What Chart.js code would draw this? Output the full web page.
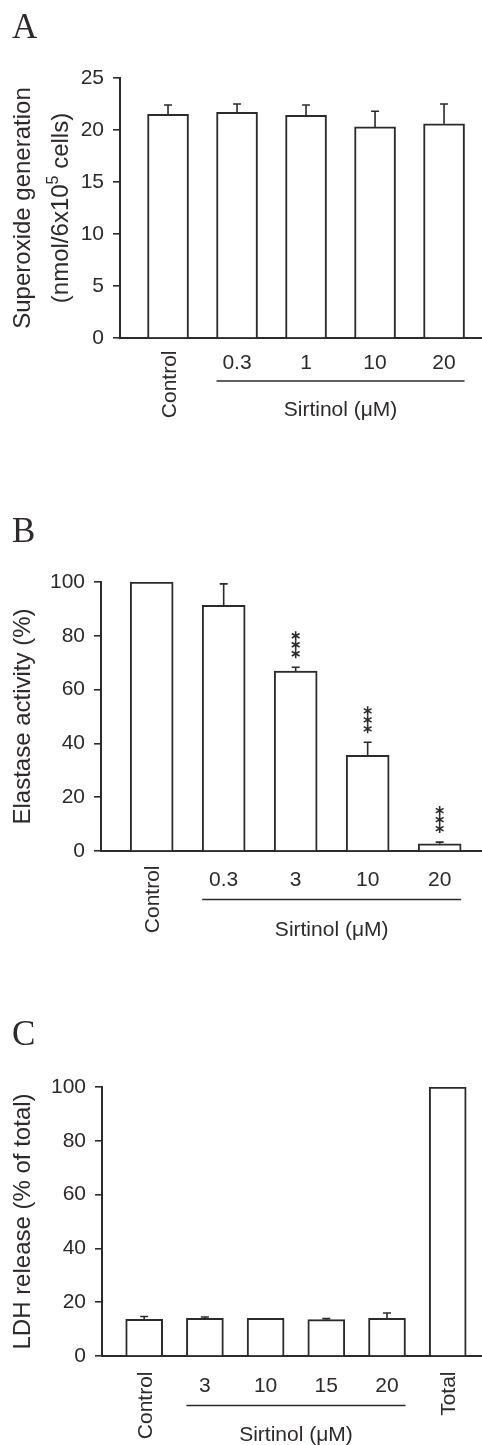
<!DOCTYPE html>
<html>
<head>
<meta charset="utf-8">
<script src="https://cdn.jsdelivr.net/npm/chart.js@4.4.1/dist/chart.umd.min.js"></script>
<style>
  html, body { margin: 0; padding: 0; background: #fff; }
  body { width: 482px; height: 1445px; position: relative; overflow: hidden; }
  .panel { position: absolute; left: 0; width: 482px; }
  canvas { display: block; }
</style>
</head>
<body>
<div class="panel" style="top:0"><canvas id="chartA" width="482" height="440"></canvas></div>
<div class="panel" style="top:480px"><canvas id="chartB" width="482" height="480"></canvas></div>
<div class="panel" style="top:960px"><canvas id="chartC" width="482" height="485"></canvas></div>
<script>
// A: superoxide generation
const catsA = ['Control', '0.3', '1', '10', '20'];
const meanA = [21.5, 21.7, 21.4, 20.3, 20.6];
const errA = [0.9, 0.8, 1.0, 1.5, 1.9];
const ticksA = [0, 5, 10, 15, 20, 25];

// B: elastase activity
const catsB = ['Control', '0.3', '3', '10', '20'];
const meanB = [100, 91.3, 66.9, 35.6, 2.7];
const errB = [0, 8.0, 1.4, 4.8, 0.6];
const starsB = ['', '', '***', '***', '***'];
const ticksB = [0, 20, 40, 60, 80, 100];

// C: LDH release
const catsC = ['Control', '3', '10', '15', '20', 'Total'];
const meanC = [13.6, 14.0, 14.0, 13.5, 14.0, 100];
const errC = [1.1, 0.5, 0, 0.4, 2.0, 0];
const ticksC = [0, 20, 40, 60, 80, 100];

const sirtinolGroup = [1, 2, 3, 4];
const groupTitle = 'Sirtinol (\u03bcM)';

const ink = '#2e2a2a';
const sans = '"Liberation Sans", Arial, sans-serif';

const figPlugin = {
    id: 'fig',
    afterDatasetsDraw(chart, args, o) {
        const ctx = chart.ctx;
        const y = chart.scales.y;
        const area = chart.chartArea;
        const bars = chart.getDatasetMeta(0).data;
        ctx.save();
        ctx.strokeStyle = ink;
        ctx.fillStyle = ink;

        // error bars (upper half only)
        ctx.lineWidth = 1.6;
        bars.forEach((bar, i) => {
            const e = o.err[i];
            if (!e) return;
            const top = y.getPixelForValue(o.mean[i] + e);
            ctx.beginPath();
            ctx.moveTo(bar.x, bar.y);
            ctx.lineTo(bar.x, top);
            ctx.moveTo(bar.x - 4, top);
            ctx.lineTo(bar.x + 4, top);
            ctx.stroke();
        });

        // significance stars, stacked vertically
        if (o.stars) {
            ctx.lineWidth = 1.6;
            bars.forEach((bar, i) => {
                const n = (o.stars[i] || '').length;
                const top = y.getPixelForValue(o.mean[i] + (o.err[i] || 0));
                for (let k = 0; k < n; k++) {
                    const cy = top - 13.5 - 9 * k;
                    ctx.beginPath();
                    for (let a = 0; a < 3; a++) {
                        const ang = Math.PI / 2 + a * Math.PI / 3;
                        ctx.moveTo(bar.x + 4.5 * Math.cos(ang), cy + 4.5 * Math.sin(ang));
                        ctx.lineTo(bar.x - 4.5 * Math.cos(ang), cy - 4.5 * Math.sin(ang));
                    }
                    ctx.stroke();
                }
            });
        }

        // category labels
        ctx.font = '21px ' + sans;
        bars.forEach((bar, i) => {
            const label = o.cats[i];
            if (o.group.includes(i)) {
                ctx.textAlign = 'center';
                ctx.textBaseline = 'alphabetic';
                ctx.fillText(label, bar.x, area.bottom + o.numY);
            } else {
                ctx.save();
                ctx.translate(bar.x + 7.5, area.bottom + o.rotY);
                ctx.rotate(-Math.PI / 2);
                ctx.textAlign = 'right';
                ctx.textBaseline = 'alphabetic';
                ctx.fillText(label, 0, 0);
                ctx.restore();
            }
        });

        // group underline + title
        const first = bars[o.group[0]];
        const last = bars[o.group[o.group.length - 1]];
        const x0 = first.x - first.width / 2;
        const x1 = last.x + last.width / 2;
        ctx.lineWidth = 1.5;
        ctx.beginPath();
        ctx.moveTo(x0, area.bottom + o.lineY);
        ctx.lineTo(x1, area.bottom + o.lineY);
        ctx.stroke();
        ctx.textAlign = 'center';
        ctx.fillText(o.groupTitle, (x0 + x1) / 2, area.bottom + o.groupY);

        // y axis title (rotated, may have two lines and a superscript)
        const cy = (area.top + area.bottom) / 2;
        o.yTitle.forEach((line, li) => {
            ctx.save();
            ctx.translate(o.titleX[li], cy);
            ctx.rotate(-Math.PI / 2);
            ctx.textAlign = 'left';
            let total = 0;
            line.forEach(seg => {
                ctx.font = (seg.sup ? '16px ' : '24px ') + sans;
                total += ctx.measureText(seg.t).width;
            });
            let x = -total / 2;
            line.forEach(seg => {
                ctx.font = (seg.sup ? '16px ' : '24px ') + sans;
                ctx.fillText(seg.t, x, seg.sup ? -10 : 0);
                x += ctx.measureText(seg.t).width;
            });
            ctx.restore();
        });

        // panel letter
        ctx.font = '35px "Liberation Serif", "Times New Roman", serif';
        ctx.textAlign = 'left';
        ctx.fillText(o.letter, 12, o.letterY);
        ctx.restore();
    }
};

function makePanel(id, p) {
    new Chart(document.getElementById(id), {
        type: 'bar',
        data: {
            datasets: [{
                data: p.mean.map((v, i) => ({ x: i, y: v })),
                backgroundColor: '#ffffff',
                borderColor: ink,
                borderWidth: 2,
                barThickness: p.barW
            }]
        },
        options: {
            responsive: false,
            animation: false,
            devicePixelRatio: 1,
            layout: { padding: { top: p.top, left: 0, right: 0, bottom: 0 } },
            scales: {
                x: {
                    type: 'linear',
                    min: p.xMin,
                    max: p.xMax,
                    offset: false,
                    z: 1,
                    grid: { display: false },
                    border: { display: true, color: ink, width: 2 },
                    ticks: { display: false },
                    afterFit: s => { s.height = p.height - p.bottom; }
                },
                y: {
                    min: 0,
                    max: p.ticks[p.ticks.length - 1],
                    afterBuildTicks: s => { s.ticks = p.ticks.map(v => ({ value: v })); },
                    grid: { drawOnChartArea: false, drawTicks: true, tickLength: 7, color: ink, lineWidth: 1.6 },
                    border: { display: true, color: ink, width: 2 },
                    ticks: { font: { size: 21, family: sans }, color: ink, padding: 9 },
                    afterFit: s => { s.width = p.left; }
                }
            },
            plugins: {
                legend: { display: false },
                tooltip: { enabled: false },
                fig: {
                    cats: p.cats, mean: p.mean, err: p.err, stars: p.stars,
                    group: sirtinolGroup, groupTitle: groupTitle,
                    yTitle: p.yTitle, titleX: p.titleX,
                    letter: p.letter, letterY: p.letterY,
                    rotY: p.rotY, numY: p.numY, lineY: p.lineY, groupY: p.groupY
                }
            }
        },
        plugins: [figPlugin]
    });
}

makePanel('chartA', {
    cats: catsA, mean: meanA, err: errA, ticks: ticksA,
    yTitle: [[{ t: 'Superoxide generation' }], [{ t: '(nmol/6x10' }, { t: '5', sup: true }, { t: ' cells)' }]],
    titleX: [30, 68], letter: 'A', letterY: 38,
    height: 440, top: 78, bottom: 338, left: 120, xMin: -0.696, xMax: 4.55, barW: 41,
    rotY: 12.5, numY: 30.5, lineY: 43, groupY: 77.5
});

makePanel('chartB', {
    cats: catsB, mean: meanB, err: errB, stars: starsB, ticks: ticksB,
    yTitle: [[{ t: 'Elastase activity (%)' }]],
    titleX: [30], letter: 'B', letterY: 62,
    height: 480, top: 102, bottom: 371, left: 101, xMin: -0.704, xMax: 4.588, barW: 43,
    rotY: 14.5, numY: 34.5, lineY: 48.5, groupY: 84.5
});

makePanel('chartC', {
    cats: catsC, mean: meanC, err: errC, ticks: ticksC,
    yTitle: [[{ t: 'LDH release (% of total)' }]],
    titleX: [30], letter: 'C', letterY: 85,
    height: 485, top: 127, bottom: 396, left: 102, xMin: -0.695, xMax: 5.565, barW: 37,
    rotY: 15.5, numY: 35.5, lineY: 49.5, groupY: 84.5
});
</script>
</body>
</html>
